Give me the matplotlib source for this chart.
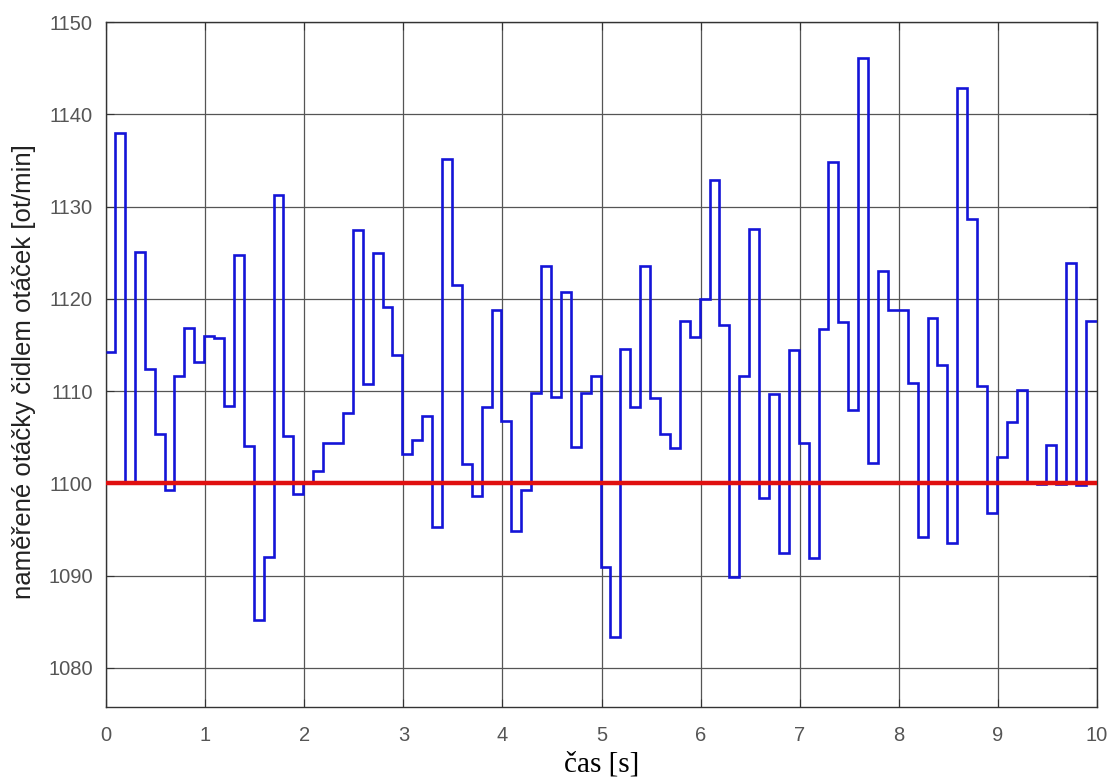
import matplotlib
matplotlib.use("Agg")
import matplotlib.pyplot as plt
import numpy as np

# measured speed, one value per ~0.1 s sample
rpm = [1114.2, 1138.0, 1100.0, 1125.1, 1112.4, 1105.4, 1099.3, 1111.6, 1116.8, 1113.1,
       1116.0, 1115.8, 1108.4, 1124.7, 1104.0, 1085.2, 1092.0, 1131.2, 1105.1, 1098.8,
       1100.2, 1101.3, 1104.4, 1104.4, 1107.6, 1127.5, 1110.8, 1125.0, 1119.1, 1113.9,
       1103.2, 1104.7, 1107.3, 1095.3, 1135.1, 1121.5, 1102.1, 1098.6, 1108.3, 1118.8,
       1106.8, 1094.8, 1099.3, 1109.8, 1123.6, 1109.4, 1120.7, 1103.9, 1109.8, 1111.6,
       1090.9, 1083.4, 1114.6, 1108.3, 1123.6, 1109.3, 1105.4, 1103.8, 1117.6, 1115.9,
       1120.0, 1132.9, 1117.2, 1089.9, 1111.6, 1127.6, 1098.4, 1109.7, 1092.4, 1114.4,
       1104.4, 1091.9, 1116.7, 1134.8, 1117.5, 1108.0, 1146.1, 1102.2, 1123.0, 1118.8,
       1118.8, 1110.9, 1094.2, 1117.9, 1112.8, 1093.5, 1142.9, 1128.6, 1110.6, 1096.8,
       1102.9, 1106.7, 1110.1, 1100.2, 1099.9, 1104.2, 1099.9, 1123.9, 1099.8, 1117.6]
setpoint = 1100
t_end = 10.0
dt = 0.1

# step edges: first sample starts at 0, later ones slightly before each 0.1 s mark
edges = np.clip(np.arange(len(rpm)) * dt - 0.01, 0, None)
edges = np.append(edges, t_end)

fig = plt.figure(figsize=(11.08, 7.83), dpi=100)
ax = fig.add_axes([0.0957, 0.0975, 0.8944, 0.8744])

ax.stairs(rpm, edges, baseline=None, color="#1414d8", lw=1.9, zorder=3)
ax.plot([0, t_end], [setpoint, setpoint], color="#e01010", lw=3.2, zorder=4)

ax.set_xlim(0, 10)
ax.set_ylim(1075.8, 1150)
ax.set_xticks(range(0, 11))
ax.set_yticks(range(1080, 1151, 10))
ax.grid(True, color="#555555", lw=0.9)
ax.set_axisbelow(True)
ax.tick_params(direction="in", top=True, right=True, length=6, colors="#333333",
               labelcolor="#555555", labelsize=14.5)
ax.tick_params(axis="x", pad=14)
ax.tick_params(axis="y", pad=9.4)
for tl in ax.get_xticklabels() + ax.get_yticklabels():
    tl.set_family("Liberation Sans")
for s in ax.spines.values():
    s.set_color("#333333")
    s.set_linewidth(1.0)

ax.set_ylabel("naměřené otáčky čidlem otáček [ot/min]", family="Liberation Sans",
              fontsize=18.5, color="#222222")
ax.yaxis.set_label_coords(-0.071, 0.49)
ax.set_xlabel("čas [s]", family="Liberation Serif", fontsize=21, color="black")
ax.xaxis.set_label_coords(0.5, -0.066)

fig.savefig("out.png", dpi=100)
